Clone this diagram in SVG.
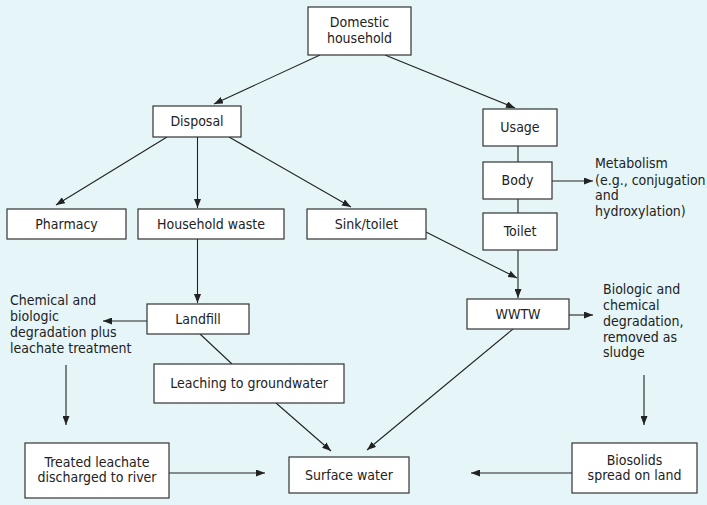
<svg xmlns="http://www.w3.org/2000/svg" width="707" height="505" viewBox="0 0 707 505">
<defs>
<marker id="ah" markerWidth="9" markerHeight="7" refX="9" refY="3.5" orient="auto" markerUnits="userSpaceOnUse">
<path d="M0,0 L9,3.5 L0,7 z" fill="#222"/>
</marker>
<style>
.box{fill:#fff;stroke:#333;stroke-width:1.2}
text{font-family:"DejaVu Sans Condensed","Liberation Sans",sans-serif;font-size:14px;fill:#222}
.c{text-anchor:middle}
.ln{stroke:#222;stroke-width:1.1;fill:none}
.ar{stroke:#222;stroke-width:1.1;fill:none;marker-end:url(#ah)}
</style>
</defs>
<rect width="707" height="505" fill="#e6f6f8"/>
<g id="connectors">
<line class="ar" x1="320" y1="55" x2="214" y2="104"/>
<line class="ar" x1="385" y1="55" x2="515" y2="108"/>
<line class="ar" x1="167" y1="137" x2="56" y2="205"/>
<line class="ar" x1="197.5" y1="137" x2="197.5" y2="208"/>
<line class="ar" x1="229" y1="137" x2="351" y2="207"/>
<line class="ln" x1="518" y1="146" x2="518" y2="162"/>
<line class="ln" x1="518" y1="199" x2="518" y2="213"/>
<line class="ar" x1="552" y1="181" x2="593" y2="181"/>
<line class="ar" x1="426" y1="232" x2="517" y2="278"/>
<line class="ar" x1="518" y1="250" x2="518" y2="298"/>
<line class="ar" x1="197.5" y1="239" x2="197.5" y2="303"/>
<line class="ar" x1="147" y1="321" x2="103" y2="321"/>
<line class="ar" x1="569" y1="315" x2="593" y2="315"/>
<line class="ln" x1="200" y1="334" x2="232" y2="364"/>
<line class="ar" x1="66" y1="365" x2="66" y2="425"/>
<line class="ar" x1="644" y1="375" x2="644" y2="425"/>
<line class="ar" x1="276" y1="403" x2="331" y2="451"/>
<line class="ar" x1="513" y1="329" x2="367" y2="450"/>
<line class="ar" x1="169" y1="473" x2="265" y2="473"/>
<line class="ar" x1="572" y1="473" x2="471" y2="473"/>
</g>
<g id="domestic"><rect class="box" x="308" y="7" width="103" height="48"/><text class="c" x="359.5" y="27">Domestic</text><text class="c" x="359.5" y="43">household</text></g>
<g id="disposal"><rect class="box" x="153" y="106" width="88" height="31"/><text class="c" x="197" y="126">Disposal</text></g>
<g id="usage"><rect class="box" x="483" y="109" width="74" height="37"/><text class="c" x="520" y="132">Usage</text></g>
<g id="body"><rect class="box" x="483" y="162" width="69" height="37"/><text class="c" x="517.5" y="185">Body</text></g>
<g id="toilet"><rect class="box" x="483" y="213" width="74" height="37"/><text class="c" x="520" y="236">Toilet</text></g>
<g id="metabolism"><text x="595" y="168">Metabolism</text><text x="595" y="185">(e.g., conjugation</text><text x="595" y="200">and</text><text x="595" y="216">hydroxylation)</text></g>
<g id="pharmacy"><rect class="box" x="7" y="209" width="119" height="30"/><text class="c" x="66.5" y="229">Pharmacy</text></g>
<g id="householdwaste"><rect class="box" x="138" y="209" width="146" height="30"/><text class="c" x="211" y="229">Household waste</text></g>
<g id="sinktoilet"><rect class="box" x="307" y="209" width="119" height="30"/><text class="c" x="366.5" y="229">Sink/toilet</text></g>
<g id="landfill"><rect class="box" x="147" y="304" width="102" height="30"/><text class="c" x="198" y="324">Landfill</text></g>
<g id="chemical"><text x="10" y="305">Chemical and</text><text x="10" y="321">biologic</text><text x="10" y="337">degradation plus</text><text x="10" y="353">leachate treatment</text></g>
<g id="wwtw"><rect class="box" x="467" y="299" width="102" height="30"/><text class="c" x="518" y="319">WWTW</text></g>
<g id="biologic"><text x="603" y="294">Biologic and</text><text x="603" y="310">chemical</text><text x="603" y="326">degradation,</text><text x="603" y="342">removed as</text><text x="603" y="357">sludge</text></g>
<g id="leaching"><rect class="box" x="154" y="364" width="190" height="39"/><text class="c" x="249" y="388">Leaching to groundwater</text></g>
<g id="treated"><rect class="box" x="25" y="443" width="144" height="55"/><text class="c" x="97" y="467">Treated leachate</text><text class="c" x="97" y="482">discharged to river</text></g>
<g id="surface"><rect class="box" x="289" y="457" width="120" height="36"/><text class="c" x="349" y="480">Surface water</text></g>
<g id="biosolids"><rect class="box" x="572" y="443" width="125" height="50"/><text class="c" x="634.5" y="465">Biosolids</text><text class="c" x="634.5" y="480">spread on land</text></g>
</svg>
